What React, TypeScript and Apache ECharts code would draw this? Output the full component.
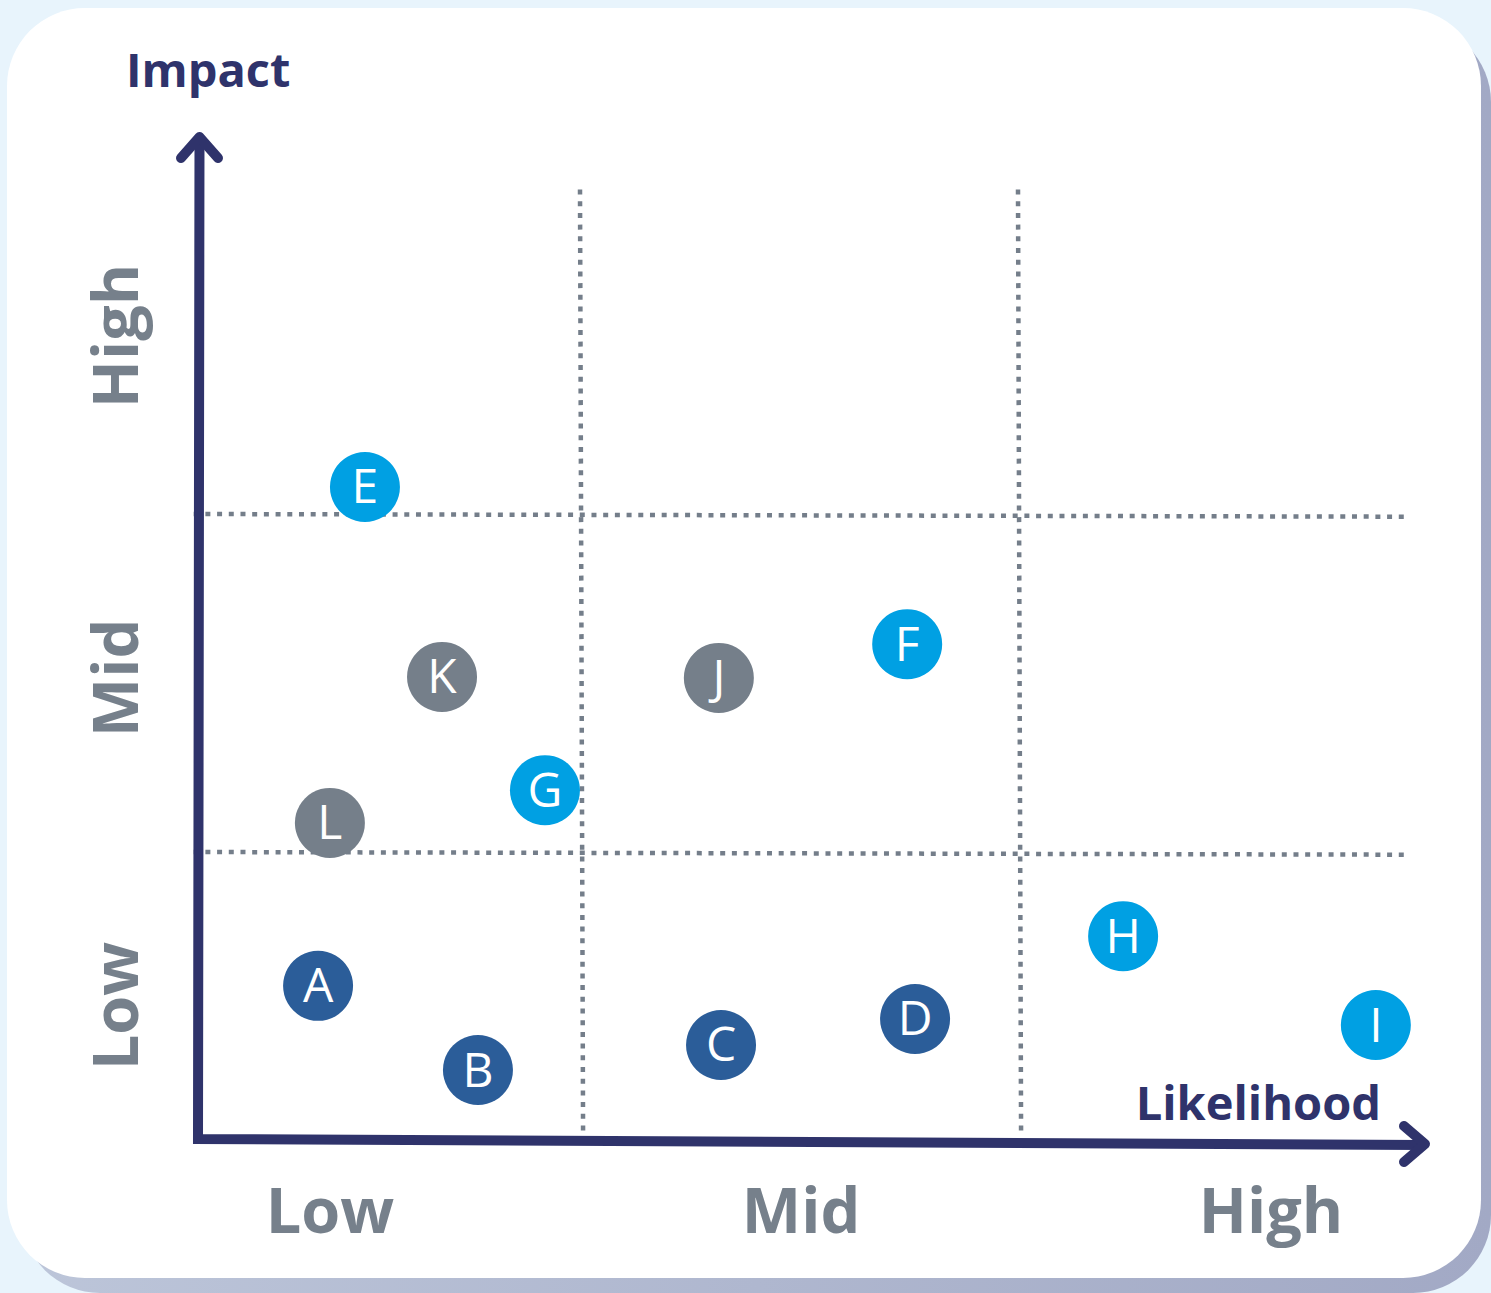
import React, { useEffect, useRef } from "react";
import * as echarts from "echarts";

// Risk points: likelihood (x, 0-3) and impact (y, 0-3)
const riskNames = ["A", "B", "C", "D", "E", "F", "G", "H", "I", "J", "K", "L"];
const likelihood = [0.402, 0.767, 1.322, 1.765, 0.509, 1.747, 0.92, 2.24, 2.817, 1.317, 0.685, 0.429];
const impact = [0.604, 0.355, 0.429, 0.506, 2.08, 1.615, 1.183, 0.751, 0.488, 1.515, 1.518, 1.086];
const riskGroup = ["dark", "dark", "dark", "dark", "bright", "bright", "bright", "bright", "bright", "gray", "gray", "gray"];

const xDividers = [1, 2];
const yDividers = [1, 2];
const xTickLabels = ["Low", "Mid", "High"];
const yTickLabels = ["Low", "Mid", "High"];

const groupColors: Record<string, string> = {
  dark: "#2b5d99",
  bright: "#00a0e3",
  gray: "#757f8a",
};

const NAVY = "#2f336b";
const GRAY = "#76808b";

export default function App() {
  const ref = useRef<HTMLDivElement>(null);
  useEffect(() => {
    document.body.style.margin = "0";
    if (!ref.current) return;
    const chart = echarts.init(ref.current, undefined, { renderer: "svg" });

    const points = riskNames.map((n, i) => ({
      value: [likelihood[i], impact[i]],
      name: n,
      itemStyle: { color: groupColors[riskGroup[i]], opacity: 1 },
    }));

    const markData: any[] = [];
    xDividers.forEach((x) => {
      markData.push([{ coord: [x, 2.96] }, { coord: [x + 0.007, 0.172] }]);
    });
    yDividers.forEach((y) => {
      markData.push([{ coord: [0.118, y] }, { coord: [2.885, y - 0.008] }]);
    });

    const xLabelPos = [330, 801, 1271];
    const yLabelPos = [1006, 678, 336];

    const graphic: any[] = [
      {
        type: "rect",
        z: -10,
        shape: { x: 22, y: 24, width: 1469, height: 1269, r: 78 },
        style: {
          fill: new echarts.graphic.LinearGradient(0, 0, 1, 0, [
            { offset: 0, color: "#bcc5d9" },
            { offset: 1, color: "#a2a9c5" },
          ]),
        },
        silent: true,
      },
      {
        type: "rect",
        z: -9,
        shape: { x: 7, y: 8, width: 1474, height: 1270, r: 78 },
        style: { fill: "#ffffff" },
        silent: true,
      },
      {
        type: "polyline",
        z: 10,
        shape: { points: [[199.5, 138], [198, 1139], [1424, 1145]] },
        style: { stroke: NAVY, lineWidth: 10, lineJoin: "miter", fill: null },
        silent: true,
      },
      {
        type: "polyline",
        z: 10,
        shape: { points: [[181, 158], [199.5, 137], [218, 158]] },
        style: { stroke: NAVY, lineWidth: 10, lineJoin: "round", lineCap: "round", fill: null },
        silent: true,
      },
      {
        type: "polyline",
        z: 10,
        shape: { points: [[1404, 1126], [1425, 1144], [1404, 1162]] },
        style: { stroke: NAVY, lineWidth: 10, lineJoin: "round", lineCap: "round", fill: null },
        silent: true,
      },
      {
        type: "text",
        z: 10,
        x: 126,
        y: 92,
        style: {
          text: "Impact",
          fill: NAVY,
          font: "bold 47px 'Open Sans'",
          textVerticalAlign: "bottom",
          textAlign: "left",
        },
      },
      {
        type: "text",
        z: 10,
        x: 1381,
        y: 1125,
        style: {
          text: "Likelihood",
          fill: NAVY,
          font: "bold 47px 'Open Sans'",
          textVerticalAlign: "bottom",
          textAlign: "right",
        },
      },
    ];
    xTickLabels.forEach((t, i) => {
      graphic.push({
        type: "text",
        z: 10,
        x: xLabelPos[i],
        y: 1208,
        style: {
          text: t,
          fill: GRAY,
          font: "bold 63px 'Open Sans'",
          textAlign: "center",
          textVerticalAlign: "middle",
        },
      });
    });
    yTickLabels.forEach((t, i) => {
      graphic.push({
        type: "text",
        z: 10,
        x: 113,
        y: yLabelPos[i],
        rotation: Math.PI / 2,
        style: {
          text: t,
          fill: GRAY,
          font: "bold 63px 'Open Sans'",
          textAlign: "center",
          textVerticalAlign: "middle",
        },
      });
    });

    chart.setOption({
      animation: false,
      backgroundColor: "#e8f4fc",
      graphic,
      grid: { left: 142, top: 176, width: 1314, height: 1014 },
      xAxis: { type: "value", min: 0, max: 3, show: false },
      yAxis: { type: "value", min: 0, max: 3, show: false },
      series: [
        {
          type: "scatter",
          z: 1,
          data: [],
          markLine: {
            silent: true,
            symbol: ["none", "none"],
            label: { show: false },
            lineStyle: { color: "#747e8a", width: 4.5, type: [5, 6.7], opacity: 1 },
            data: markData,
          },
        },
        {
          type: "scatter",
          z: 5,
          symbol: "circle",
          symbolSize: 70,
          data: points,
          label: {
            show: true,
            position: "inside",
            formatter: "{b}",
            color: "#ffffff",
            fontFamily: "'Open Sans'",
            fontWeight: 400,
            fontSize: 48,
            offset: [0, -2],
          },
        },
      ],
    });
    return () => chart.dispose();
  }, []);
  return <div ref={ref} style={{ width: 1491, height: 1293 }} />;
}
